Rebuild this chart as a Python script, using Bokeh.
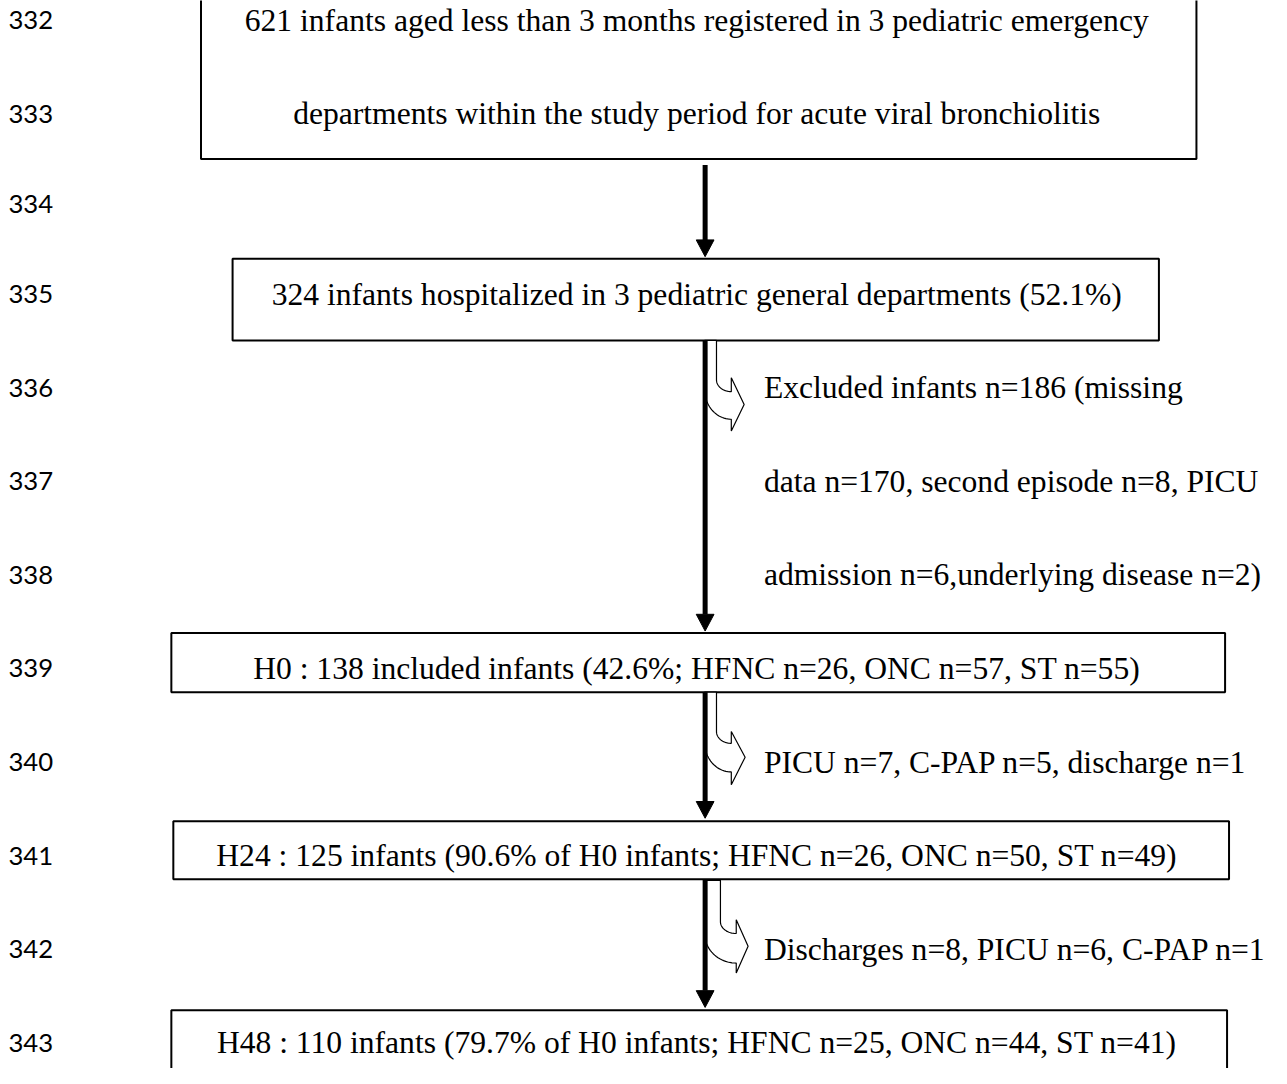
import numpy as np
from bokeh.plotting import figure
from bokeh.models import Range1d
from bokeh.core.properties import value
from bokeh.embed import file_html
from bokeh.resources import INLINE

# ---- content ----
line_numbers = ["332", "333", "334", "335", "336", "337", "338", "339", "340", "341", "342", "343"]
line_number_y = [20, 115, 207, 298, 393, 488, 583, 678, 773, 868, 963, 1058]

box_lines = [
    "621 infants aged less than 3 months registered in 3 pediatric emergency",
    "departments within the study period for acute viral bronchiolitis",
    "324 infants hospitalized in 3 pediatric general departments (52.1%)",
    "H0 : 138 included infants (42.6%; HFNC n=26, ONC n=57, ST n=55)",
    "H24 : 125 infants (90.6% of H0 infants; HFNC n=26, ONC n=50, ST n=49)",
    "H48 : 110 infants (79.7% of H0 infants; HFNC n=25, ONC n=44, ST n=41)",
]
box_line_y = [20, 115, 298, 678, 868, 1058]
box_line_x = [705, 705, 705, 705, 705, 705]

side_lines = [
    "Excluded infants n=186 (missing",
    "data n=170, second episode n=8, PICU",
    "admission n=6,underlying disease n=2)",
    "PICU n=7, C-PAP n=5, discharge n=1",
    "Discharges n=8, PICU n=6, C-PAP n=1",
]
side_line_y = [393, 488, 583, 773, 963]
side_x = 773

# boxes: left, right, top, bottom
box_left = [203, 235, 173, 175, 173]
box_right = [1211, 1173, 1240, 1244, 1242]
box_top = [-20, 262, 642, 833, 1025]
box_bottom = [161, 345, 702, 892, 1110]

# straight arrows
shaft_x = 713.5
shaft_start = [167, 345, 702, 892]
head_top = [243, 623, 813, 1005]
head_tip = [260, 640, 830, 1022]

# bent hollow arrows
bent = [
    (345, 713, 725, 740, 753, 52, 38, 92, 65, 80),
    (702, 713, 725, 740, 754, 52, 40, 94, 66, 81),
    (893, 713, 729, 745, 757, 54, 40, 94, 67, 84),
]

W, H = 1287, 1084
FW, FH = 1271, 1068
scale = FW / W

p = figure(width=FW, height=FH, output_backend="svg", toolbar_location=None,
           x_range=Range1d(0, W), y_range=Range1d(H, 0),
           min_border=0, outline_line_color=None)
p.axis.visible = False
p.grid.visible = False
p.background_fill_color = "white"
p.border_fill_color = "white"

# boxes
p.quad(left=box_left, right=box_right, top=box_top, bottom=box_bottom,
       fill_color=None, line_color="black", line_width=2)

# bent hollow arrows
xs_all, ys_all = [], []
t = np.linspace(0, np.pi / 2, 24)
for (y0, xo, xi, xb, xt, inner_end, h_top, h_bot, tip_dy, lower) in bent:
    ai = xb - xi
    bi = 12
    yis = y0 + inner_end - bi
    ao = xb - xo
    bo = 30
    yos = y0 + lower - bo
    xs = [xi, xi] + list(xb - ai * np.cos(t)) + [xb, xt, xb, xb] + list(xb - ao * np.cos(t[::-1])) + [xo, xo]
    ys = [y0, yis] + list(yis + bi * np.sin(t)) + [y0 + h_top, y0 + tip_dy, y0 + h_bot, y0 + lower] + list(yos + bo * np.sin(t[::-1])) + [yos, y0]
    xs_all.append(xs)
    ys_all.append(ys)
p.patches(xs_all, ys_all, fill_color="white", line_color="black", line_width=1.2)

# shafts and heads
p.segment(x0=[shaft_x] * 4, y0=shaft_start, x1=[shaft_x] * 4, y1=head_top,
          line_color="black", line_width=5)
hx = [[shaft_x - 9, shaft_x + 9, shaft_x] for _ in head_top]
hy = [[ht, ht, tp] for ht, tp in zip(head_top, head_tip)]
p.patches(hx, hy, fill_color="black", line_color="black", line_width=1)

serif = value("Liberation Serif")
serif_size = value(f"{32 * scale:.1f}px")
p.text(x=box_line_x, y=box_line_y, text=box_lines, text_font=serif,
       text_font_size=serif_size, text_align="center", text_baseline="middle",
       text_color="black")
p.text(x=[side_x] * len(side_lines), y=side_line_y, text=side_lines, text_font=serif,
       text_font_size=serif_size, text_align="left", text_baseline="middle",
       text_color="black")
p.text(x=[8] * len(line_numbers), y=line_number_y, text=line_numbers, text_font=value("Lato"),
       text_font_size=value(f"{26 * scale:.1f}px"), text_align="left", text_baseline="middle",
       text_color="black")

open("out.html", "w").write(file_html(p, INLINE))
